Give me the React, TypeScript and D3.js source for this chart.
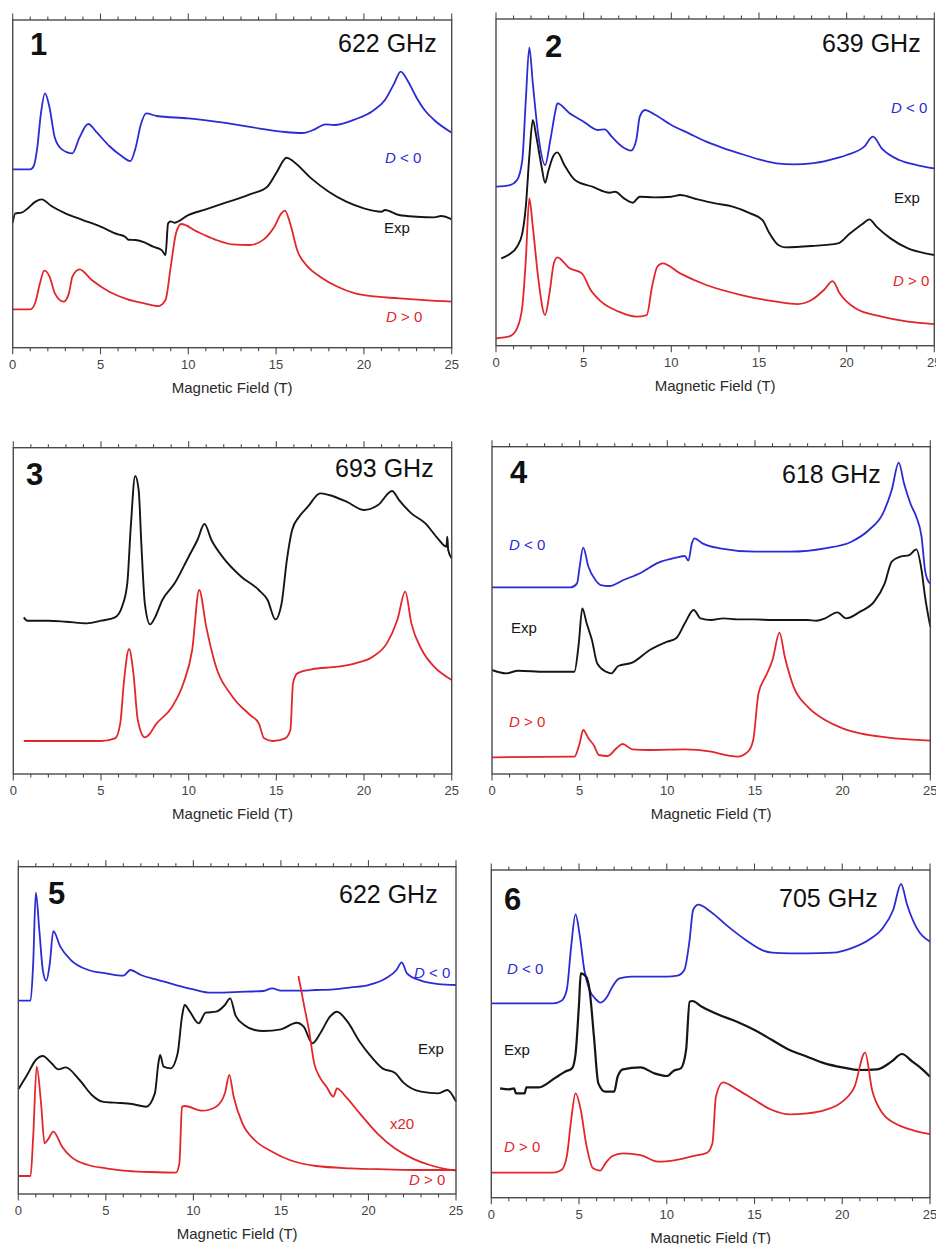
import { useEffect, useRef } from 'react';
import * as d3 from 'd3';

type Pt = [number, number];

const BLUE = '#2b2bd6';
const RED = '#e3262b';
const BLACK = '#151515';

// x = magnetic field (T), y = intensity in arbitrary units (0 = frame bottom)

// 1 - 622 GHz
const p1Neg: Pt[] = [[0, 53.5], [1.0, 53.5], [1.2, 54.5], [1.4, 60], [1.6, 70], [1.84, 76.3], [2.1, 72], [2.4, 63], [2.8, 59.5], [3.4, 58.3], [3.8, 63], [4.3, 67.1], [4.8, 64.5], [5.5, 60.5], [6.2, 57.5], [6.7, 56], [7.0, 60], [7.3, 67], [7.6, 70.3], [8.2, 69.5], [10, 68.8], [12, 67.5], [14, 65.8], [15.5, 64.7], [16.5, 64.4], [17.2, 65.5], [17.8, 67], [18.3, 66.8], [19.5, 68.5], [20.5, 71], [21.2, 74.3], [21.7, 79], [22.1, 82.8], [22.5, 80], [23.0, 75], [23.5, 71], [24.0, 68.3], [25, 64.5]];
const p1Exp: Pt[] = [[0, 37.5], [0.15, 40.3], [0.5, 40.5], [0.9, 42], [1.3, 43.8], [1.65, 44.5], [2.2, 42.5], [3, 40.3], [4, 38.3], [5, 36.3], [6, 34], [6.4, 33.3], [6.6, 32.4], [7, 32.3], [7.5, 31.6], [8, 30.3], [8.5, 29.2], [8.7, 27.8], [8.85, 37.3], [9.0, 37.9], [9.2, 37.5], [10, 39.8], [11, 41.5], [12, 43.3], [13, 45], [13.5, 46], [14.5, 48.3], [15, 52.3], [15.6, 57], [16, 55.8], [17, 50.8], [18, 46.8], [19, 43.8], [20, 41.8], [21, 40.8], [21.2, 41.3], [22, 39.8], [23, 39.3], [24, 39.1], [24.4, 39.5], [25, 38.5]];
const p1Pos: Pt[] = [[0, 11.5], [1.0, 11.5], [1.3, 13.8], [1.55, 19.3], [1.8, 23.1], [2.1, 21.3], [2.4, 16.3], [2.9, 13.8], [3.2, 16.3], [3.4, 21.3], [3.8, 23.5], [4.5, 20.3], [5.5, 16.8], [6.5, 14.6], [7.5, 13.3], [8.3, 12.5], [8.7, 14.3], [9.0, 24.3], [9.3, 34.3], [9.6, 37.1], [10.5, 34.8], [11.5, 32.5], [12.5, 31], [13.5, 30.8], [14.3, 32.5], [14.9, 36.3], [15.3, 40.3], [15.5, 41.1], [15.8, 37.3], [16.2, 29.3], [16.8, 24.3], [17.5, 21.3], [18.5, 18.3], [19.5, 16.3], [20.2, 15.6], [22, 14.8], [25, 13.8]];

// 2 - 639 GHz
const p2Neg: Pt[] = [[0, 47.7], [0.8, 48.2], [1.2, 49.7], [1.5, 55.7], [1.7, 73.7], [1.9, 89.4], [2.1, 78.7], [2.4, 63.7], [2.8, 54.2], [3.1, 61.7], [3.4, 70.7], [3.5, 72.7], [4.2, 69.7], [5, 67.2], [5.8, 64.7], [6.2, 64.9], [6.6, 62.7], [7.2, 59.7], [7.7, 58.5], [8.0, 61.7], [8.2, 68.7], [8.5, 70.7], [9, 69.5], [10, 66.2], [11, 63.7], [12, 61.2], [13, 59.2], [14, 57.5], [15, 55.9], [16, 54.7], [17, 54.4], [18, 54.7], [19, 55.7], [20, 57.2], [21, 59.7], [21.5, 62.7], [22, 59.2], [23, 55.7], [24, 54.2], [25, 53.2]];
const p2Exp: Pt[] = [[0.3, 26.2], [0.7, 27.2], [1.2, 29.7], [1.5, 33.7], [1.7, 41.7], [1.9, 56.7], [2.1, 67.7], [2.3, 62.7], [2.6, 53.7], [2.8, 48.9], [3.0, 52.7], [3.3, 57.2], [3.5, 58], [3.9, 54.2], [4.5, 49.7], [5.5, 47.7], [6.5, 45.9], [6.8, 46.2], [7.3, 44.2], [7.8, 42.9], [8.2, 44.7], [9, 44.5], [10, 44.7], [10.5, 45.2], [11.5, 43.9], [12.5, 42.7], [13.5, 41.7], [14.5, 39.7], [15.2, 37.7], [15.6, 33.7], [16.1, 30.2], [16.5, 29.5], [18, 29.9], [19.5, 30.7], [20.2, 33.7], [20.9, 36.5], [21.3, 37.9], [21.7, 35.7], [22.5, 32.2], [23.5, 29.2], [24.5, 27.7], [25, 27.2]];
const p2Pos: Pt[] = [[0, 2.2], [0.8, 2.9], [1.2, 5.2], [1.5, 11.7], [1.7, 25.7], [1.9, 44.2], [2.1, 35.7], [2.4, 20.7], [2.8, 9.2], [3.05, 15.7], [3.3, 24.7], [3.5, 26.5], [4.2, 23.2], [4.9, 21.7], [5.4, 16.7], [6, 13.2], [7, 10.2], [8, 8.7], [8.6, 9.2], [8.9, 17.7], [9.2, 23.7], [9.5, 24.7], [10.5, 21.7], [12, 18.2], [14, 15.2], [16, 13.2], [17.2, 12.5], [18, 13.7], [18.7, 16.7], [19.2, 19.4], [19.6, 15.7], [20.5, 11.2], [22, 8.7], [23.5, 7.2], [25, 6.5]];

// 3 - 693 GHz
const p3Exp: Pt[] = [[0.6, 47], [0.8, 46], [2, 46], [3, 45.7], [4.2, 45.2], [5, 46], [5.8, 47], [6.2, 50.2], [6.5, 57.2], [6.7, 74.2], [6.95, 89.4], [7.15, 85.2], [7.3, 69.2], [7.5, 51.2], [7.8, 44.9], [8.1, 47.2], [8.5, 52.2], [9.2, 57.2], [10, 65.2], [10.5, 70.2], [10.9, 75], [11.3, 70.2], [12, 64.7], [13, 59.2], [14, 55.2], [14.5, 52.2], [14.95, 46.4], [15.3, 51.2], [15.6, 64.2], [15.9, 73.2], [16.3, 77.2], [16.8, 80.2], [17.5, 84.2], [18, 83.7], [19, 81.7], [20, 79.2], [20.8, 80.7], [21.6, 84.9], [22, 82.2], [22.7, 78.2], [23.5, 75.2], [24.2, 70.7], [24.7, 68.2], [24.75, 71.2], [24.8, 67.2], [25, 64.7]];
const p3Pos: Pt[] = [[0.6, 9.9], [5, 9.9], [5.8, 10.7], [6.1, 15.2], [6.3, 27.2], [6.6, 37.5], [6.85, 30.2], [7.1, 16.2], [7.5, 11], [7.8, 12.2], [8.1, 14.7], [9, 19.7], [9.7, 27.2], [10.2, 37.2], [10.6, 55.2], [11, 44.2], [11.5, 33.2], [12.5, 23.2], [13.5, 17.7], [14, 15.2], [14.3, 10.7], [14.8, 9.9], [15.5, 10.7], [15.8, 13.2], [15.95, 27.2], [16.2, 30.2], [17, 31.4], [18.5, 32.2], [19.5, 33.2], [20.5, 35.2], [21.3, 39.2], [21.9, 46.2], [22.35, 54.7], [22.7, 45.2], [23.3, 37.2], [24, 32.2], [25, 28.2]];

// 4 - 618 GHz
const p4Neg: Pt[] = [[0, 56], [4.5, 56], [4.85, 57.2], [5.0, 62.2], [5.2, 67.9], [5.5, 62.2], [5.9, 58.2], [6.2, 56.7], [6.7, 56.4], [7.5, 58.2], [8.5, 60.4], [9.5, 63.4], [10.5, 64.9], [11, 65.4], [11.2, 64], [11.4, 69.2], [11.55, 70.7], [12, 69.2], [13, 67.7], [15, 66.7], [17, 66.7], [19, 67.7], [20.5, 69.7], [21.5, 73.2], [22.3, 78.2], [22.8, 85.2], [23.2, 93.4], [23.5, 87.2], [23.9, 80.7], [24.2, 77.2], [24.5, 71.2], [24.7, 61.2], [24.9, 57.7], [25, 57.2]];
const p4Exp: Pt[] = [[0, 31.2], [0.8, 30.2], [1.5, 31], [3, 30.7], [4.7, 30.7], [4.95, 39.2], [5.15, 49.7], [5.4, 45.2], [5.7, 40.2], [6, 33.2], [6.5, 30.7], [6.8, 30.2], [7.2, 32.4], [8, 33.4], [9, 37.2], [10, 39.7], [10.5, 40.7], [11, 45.2], [11.5, 49.2], [11.9, 46.7], [12.5, 46.2], [13.2, 46.7], [14, 46.4], [15, 46.4], [16, 46.2], [17, 46.2], [18, 46.2], [18.5, 46], [19, 46.7], [19.7, 48.5], [20.2, 46.7], [21, 48.7], [21.8, 51.7], [22.4, 57.2], [22.8, 63.7], [23.3, 65.2], [23.8, 65.7], [24.2, 67.4], [24.5, 61.2], [24.7, 53.2], [25, 44.2]];
const p4Pos: Pt[] = [[0, 5], [4.7, 5.2], [5.0, 9.2], [5.2, 13.2], [5.5, 10.7], [5.8, 8.7], [6.1, 5.7], [6.6, 5.4], [7.1, 7.7], [7.45, 9], [8, 7.4], [9, 7.2], [11, 7.4], [12.5, 6.7], [13.5, 5.5], [14.0, 5.2], [14.6, 6.7], [14.9, 10.2], [15.2, 24.2], [15.6, 29.2], [16.0, 34.2], [16.4, 42.4], [16.7, 35.2], [17.2, 26.2], [18, 20.2], [19, 16.2], [20, 13.7], [21, 12.2], [22.5, 11], [25, 10]];

// 5 - 622 GHz
const p5Neg: Pt[] = [[0, 58], [0.7, 58], [0.85, 69.2], [1.0, 90.4], [1.2, 79.2], [1.4, 67.2], [1.6, 64], [1.8, 69.2], [2.0, 78.9], [2.4, 74.2], [3, 70.2], [4, 67.2], [5, 66.2], [6, 65.5], [6.4, 67.2], [7, 65.7], [8, 64.2], [9, 62.7], [10, 61.4], [11, 60.4], [12, 60.5], [13, 60.7], [14, 60.9], [14.5, 61.7], [15, 61], [16, 61], [17, 61.2], [18, 61.4], [19, 62], [20, 62.7], [21, 64.7], [21.6, 67.2], [21.9, 69.5], [22.2, 66.2], [23, 64], [24, 63], [25, 62.7]];
const p5Exp: Pt[] = [[0, 31.4], [0.5, 35.7], [1, 40.2], [1.4, 41.4], [1.9, 39.2], [2.3, 37.4], [2.7, 38], [3.5, 34.2], [4.2, 29.7], [4.8, 27.7], [5.5, 27.4], [6.5, 27], [7.3, 26.2], [7.8, 30.2], [8.0, 39.2], [8.1, 41.7], [8.3, 38.2], [8.7, 37.7], [9.1, 42.2], [9.35, 53.2], [9.5, 56.7], [9.8, 54.7], [10.3, 51.2], [10.7, 54.4], [11.3, 54.7], [11.8, 56.7], [12.1, 58.7], [12.4, 53.7], [12.9, 50.7], [13.5, 49.2], [14, 48.9], [15, 49.4], [15.9, 51.4], [16.3, 50.2], [16.8, 45.2], [17.3, 48.7], [17.8, 53.2], [18.2, 54.7], [18.8, 51.7], [19.5, 45.7], [20, 42.2], [20.8, 37.7], [21.5, 36.4], [22, 33.4], [23, 30.7], [24, 30.2], [24.5, 31.2], [25, 27.7]];
const p5Pos: Pt[] = [[0, 5.4], [0.7, 5.4], [0.85, 17.2], [1.05, 38.2], [1.3, 27.2], [1.5, 15.2], [1.7, 16.4], [2.0, 18.7], [2.5, 14.2], [3, 11.2], [4, 8.7], [5, 7.7], [6, 7], [7.5, 6.6], [9, 6.4], [9.2, 9.2], [9.35, 26.2], [9.5, 26.4], [10.5, 25], [11.3, 26.2], [11.8, 30.2], [12.05, 35.7], [12.3, 29.2], [12.8, 21.2], [13.5, 16.2], [14.5, 12.7], [15.5, 10.2], [17, 8.4], [19, 7.7], [21, 7.4], [23, 7.2], [25, 7.2]];
const p5PosX20: Pt[] = [[16.0, 65.4], [16.3, 57.2], [16.6, 49.2], [16.9, 39.2], [17.2, 35.2], [17.6, 32.2], [18.0, 29.2], [18.2, 31.7], [18.7, 29.2], [19.5, 24.2], [20.5, 18.2], [21.5, 13.7], [22.5, 10.7], [23.5, 8.7], [24.5, 7.4], [25, 7]];

// 6 - 705 GHz
const p6Neg: Pt[] = [[0, 58.3], [3.5, 58.3], [4.0, 59.1], [4.3, 62.3], [4.55, 75.3], [4.8, 85], [5.05, 78.3], [5.3, 68.3], [5.6, 62.3], [6, 59.3], [6.2, 58.5], [6.6, 60.3], [6.9, 63.3], [7.3, 65.8], [8, 66.3], [9, 66.3], [10, 66.3], [10.6, 66.6], [11.0, 68.3], [11.3, 77.3], [11.5, 86.3], [11.8, 87.9], [12.5, 85.8], [13.5, 81.3], [14.5, 77.3], [15.5, 74.1], [16, 73.5], [17, 73.3], [18, 73.3], [19.5, 73.5], [20.5, 74.8], [21.5, 77.3], [22.3, 80.8], [22.9, 86.3], [23.35, 94.1], [23.7, 87.8], [24.2, 81.3], [25, 76.8]];
const p6Exp: Pt[] = [[0.5, 32.8], [1.0, 32.5], [1.3, 32.8], [1.4, 31.3], [1.9, 31.3], [2.0, 33.1], [2.7, 33.1], [3.2, 34.3], [3.6, 35.8], [4.2, 37.8], [4.6, 38.8], [4.8, 43.1], [5.0, 58.3], [5.1, 67.3], [5.4, 66.3], [5.6, 62.3], [5.85, 48.3], [6.1, 34.3], [6.5, 31.8], [7, 31.8], [7.2, 36.3], [7.5, 38.5], [8.5, 39.1], [9.3, 37.3], [10, 36.5], [10.4, 38.1], [10.8, 38.8], [11.1, 44.3], [11.3, 58.8], [11.45, 59], [12, 57.3], [13, 54.8], [14, 52.8], [15, 50.3], [16, 47.3], [17, 44.3], [18, 42.3], [19, 40.3], [20, 39.1], [21, 38.3], [22, 38.5], [22.8, 40.8], [23.4, 43.1], [24, 40.8], [24.5, 38.8], [25, 36.3]];
const p6Pos: Pt[] = [[0, 7.5], [3.5, 7.5], [4.0, 8.3], [4.3, 12.3], [4.55, 23.3], [4.8, 31.3], [5.1, 26.3], [5.4, 16.3], [5.8, 8.8], [6.2, 8.1], [6.5, 10.3], [6.9, 12.5], [7.5, 13.3], [8.5, 12.8], [9.5, 10.8], [10.5, 11.3], [11.5, 12.5], [12.3, 13.5], [12.6, 16.3], [12.8, 30.3], [13.2, 34.6], [14, 32.5], [15, 29.3], [16, 26.3], [17, 25], [18, 25.3], [19, 26.3], [20, 28.8], [20.7, 33.3], [21.3, 43.5], [21.7, 32.3], [22.3, 25.3], [23, 22.3], [24, 20.3], [25, 19.1]];

const xTickLabels = [0, 5, 10, 15, 20, 25];

const panels = [
  { num: '1', freq: '622 GHz', box: [12.7, 20, 451.7, 347.7], yMax: 98.3, numAt: [30, 55], freqAt: [338, 52],
    lines: [[p1Neg, BLUE, 1.8], [p1Exp, BLACK, 1.9], [p1Pos, RED, 1.8]],
    labels: [['neg', 385, 163], ['exp', 384, 233], ['pos', 386, 322]] },
  { num: '2', freq: '639 GHz', box: [496, 19, 934.3, 345.7], yMax: 98, numAt: [545, 57], freqAt: [822, 52],
    lines: [[p2Neg, BLUE, 1.8], [p2Exp, BLACK, 1.9], [p2Pos, RED, 1.8]],
    labels: [['neg', 891, 113], ['exp', 894, 203], ['pos', 893, 286]] },
  { num: '3', freq: '693 GHz', box: [13.3, 447.7, 451.7, 774], yMax: 97.9, numAt: [26, 485], freqAt: [335, 477],
    lines: [[p3Exp, BLACK, 1.9], [p3Pos, RED, 1.8]],
    labels: [] },
  { num: '4', freq: '618 GHz', box: [492, 446.7, 930.3, 774], yMax: 98.2, numAt: [510, 483], freqAt: [782, 483],
    lines: [[p4Neg, BLUE, 1.8], [p4Exp, BLACK, 1.9], [p4Pos, RED, 1.8]],
    labels: [['neg', 509, 550], ['exp', 511, 633], ['pos', 509, 727]] },
  { num: '5', freq: '622 GHz', box: [18.3, 866.7, 456, 1194], yMax: 98.2, numAt: [48, 904], freqAt: [339, 903],
    lines: [[p5Neg, BLUE, 1.8], [p5Exp, BLACK, 1.9], [p5Pos, RED, 1.8], [p5PosX20, RED, 1.8]],
    labels: [['neg', 414, 978], ['exp', 418, 1054], ['x20', 390, 1129], ['pos', 409, 1185]] },
  { num: '6', freq: '705 GHz', box: [491.3, 870, 930, 1197.7], yMax: 98.3, numAt: [504, 910], freqAt: [779, 907],
    lines: [[p6Neg, BLUE, 1.8], [p6Exp, BLACK, 2.2], [p6Pos, RED, 1.8]],
    labels: [['neg', 507, 974], ['exp', 504, 1055], ['pos', 504, 1152]] },
];

const FONT = "'Liberation Sans', Arial, Helvetica, sans-serif";

function App() {
  const svgRef = useRef<SVGSVGElement | null>(null);

  useEffect(() => {
    if (!svgRef.current) return;
    const svg = d3.select(svgRef.current);
    svg.selectAll('*').remove();

    panels.forEach((p) => {
      const [x0, y0, x1, y1] = p.box;
      const x = d3.scaleLinear().domain([0, 25]).range([x0, x1]);
      const y = d3.scaleLinear().domain([0, p.yMax]).range([y1, y0]);
      const g = svg.append('g');

      const line = d3.line<Pt>()
        .x((d) => x(d[0]))
        .y((d) => y(d[1]))
        .curve(d3.curveMonotoneX);

      p.lines.forEach(([data, color, w]: any) => {
        g.append('path')
          .attr('d', line(data))
          .attr('fill', 'none')
          .attr('stroke', color)
          .attr('stroke-width', w)
          .attr('stroke-linejoin', 'round');
      });

      // frame
      g.append('rect')
        .attr('x', x0).attr('y', y0)
        .attr('width', x1 - x0).attr('height', y1 - y0)
        .attr('fill', 'none').attr('stroke', '#4a4a4a').attr('stroke-width', 1.4);

      // ticks top and bottom, outside
      x.ticks(25).forEach((t) => {
        const major = t % 5 === 0;
        const len = major ? 6.5 : 3.5;
        g.append('line').attr('x1', x(t)).attr('x2', x(t))
          .attr('y1', y0).attr('y2', y0 - len)
          .attr('stroke', '#4a4a4a').attr('stroke-width', 1.1);
        g.append('line').attr('x1', x(t)).attr('x2', x(t))
          .attr('y1', y1).attr('y2', y1 + len)
          .attr('stroke', '#4a4a4a').attr('stroke-width', 1.1);
      });

      xTickLabels.forEach((t) => {
        g.append('text').attr('x', x(t)).attr('y', y1 + 21)
          .attr('text-anchor', 'middle')
          .attr('font-family', FONT).attr('font-size', 13).attr('fill', '#444')
          .text(t);
      });

      g.append('text').attr('x', (x0 + x1) / 2).attr('y', y1 + 45)
        .attr('text-anchor', 'middle')
        .attr('font-family', FONT).attr('font-size', 15).attr('fill', '#2a2a2a')
        .text('Magnetic Field (T)');

      g.append('text').attr('x', p.numAt[0]).attr('y', p.numAt[1])
        .attr('font-family', FONT).attr('font-size', 31).attr('font-weight', 'bold').attr('fill', '#111')
        .text(p.num);

      g.append('text').attr('x', p.freqAt[0]).attr('y', p.freqAt[1])
        .attr('font-family', FONT).attr('font-size', 25).attr('fill', '#111')
        .text(p.freq);

      p.labels.forEach(([kind, lx, ly]: any) => {
        const t = g.append('text').attr('x', lx).attr('y', ly)
          .attr('font-family', FONT).attr('font-size', 15);
        if (kind === 'neg' || kind === 'pos') {
          t.attr('fill', kind === 'neg' ? BLUE : RED);
          t.append('tspan').attr('font-style', 'italic').text('D');
          t.append('tspan').text(kind === 'neg' ? ' < 0' : ' > 0');
        } else if (kind === 'x20') {
          t.attr('fill', RED).text('x20');
        } else {
          t.attr('fill', BLACK).text('Exp');
        }
      });
    });
  }, []);

  return (
    <svg ref={svgRef} width={936} height={1244}
      style={{ position: 'absolute', left: 0, top: 0, background: '#fff' }} />
  );
}

export default App;
